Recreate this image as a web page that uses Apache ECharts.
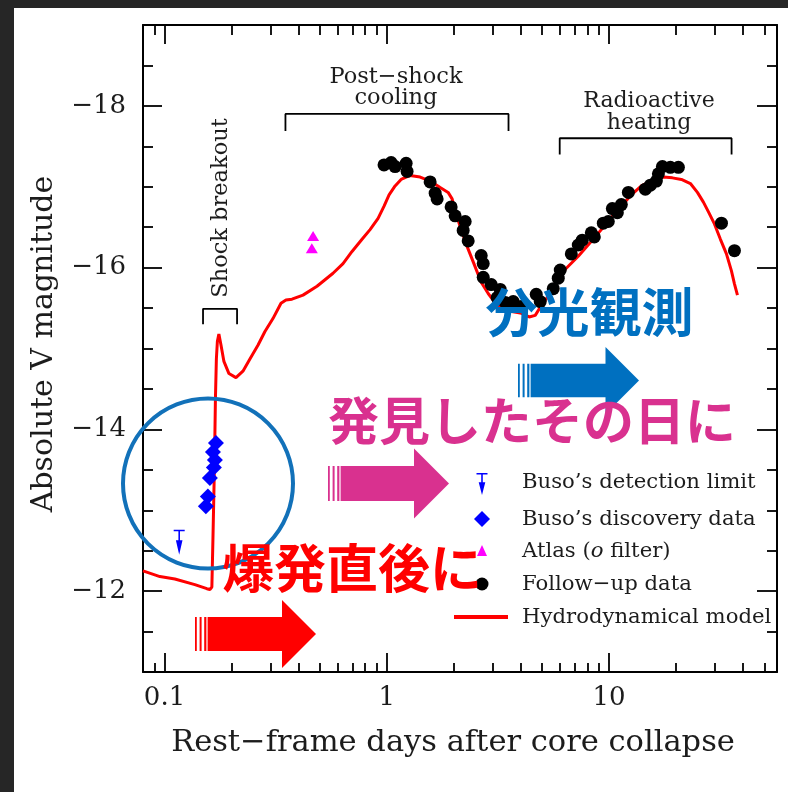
<!DOCTYPE html>
<html>
<head>
<meta charset="utf-8">
<script src="https://cdn.jsdelivr.net/npm/echarts@6.0.0/dist/echarts.min.js"></script>
<style>
  html, body { margin: 0; padding: 0; background: #ffffff; }
  #chart { width: 788px; height: 792px; }
</style>
</head>
<body>
<div id="chart"></div>
<script>
// ---- Light-curve data: rest-frame days after core collapse / absolute V magnitude ----
const modelDays = [0.080, 0.0953, 0.1113, 0.1369, 0.1550, 0.1600, 0.1633, 0.1651, 0.1676, 0.1694,
  0.1711, 0.1729, 0.1756, 0.1793, 0.1850, 0.1949, 0.2096, 0.2253, 0.2422, 0.2632,
  0.2830, 0.3075, 0.3342, 0.3518, 0.3745, 0.4198, 0.4853, 0.5729, 0.6355, 0.6978,
  0.7738, 0.8409, 0.9138, 0.9723, 1.024, 1.090, 1.160, 1.273, 1.413, 1.567,
  1.739, 1.888, 1.968, 2.052, 2.161, 2.300, 2.474, 2.660, 2.860, 3.043,
  3.239, 3.593, 3.986, 4.375, 4.656, 4.904, 5.329, 5.789, 6.357, 7.272,
  8.236, 9.233, 10.24, 11.36, 12.60, 13.98, 16.00, 17.56, 19.28, 21.17,
  23.24, 24.99, 26.59, 28.02, 29.81, 31.72, 33.76, 35.55, 36.68, 37.84];
const modelMag = [-12.25, -12.18, -12.15, -12.08, -12.03, -12.02, -12.05, -12.64, -13.51, -14.37,
  -14.87, -15.09, -15.18, -15.05, -14.84, -14.69, -14.64, -14.72, -14.87, -15.04,
  -15.21, -15.37, -15.56, -15.60, -15.61, -15.66, -15.77, -15.93, -16.05, -16.20,
  -16.35, -16.47, -16.61, -16.76, -16.90, -17.01, -17.09, -17.14, -17.12, -17.07,
  -16.99, -16.93, -16.85, -16.66, -16.47, -16.26, -16.04, -15.82, -15.68, -15.58,
  -15.51, -15.46, -15.44, -15.39, -15.41, -15.51, -15.65, -15.83, -15.98, -16.14,
  -16.31, -16.47, -16.62, -16.76, -16.90, -17.01, -17.09, -17.12, -17.11, -17.09,
  -17.04, -16.93, -16.81, -16.69, -16.54, -16.35, -16.17, -15.96, -15.80, -15.66];

const followDays = [0.972, 1.046, 1.090, 1.222, 1.234, 1.567, 1.651, 1.685, 1.948, 2.031,
  2.253, 2.207, 2.324, 2.660, 2.716, 2.716, 2.951, 3.239, 3.139, 3.412,
  3.706, 4.027, 4.705, 4.904, 5.612, 5.910, 6.034, 6.765, 7.272, 7.580,
  8.325, 8.587, 9.426, 9.927, 10.35, 10.90, 11.36, 12.22, 14.57, 15.35,
  16.33, 16.68, 17.39, 18.88, 20.52, 32.06, 36.68];
const followMag = [-17.27, -17.30, -17.25, -17.29, -17.19, -17.06, -16.92, -16.85, -16.75, -16.64,
  -16.57, -16.46, -16.33, -16.15, -16.05, -15.88, -15.79, -15.73, -15.63, -15.57,
  -15.58, -15.52, -15.67, -15.58, -15.74, -15.87, -15.97, -16.17, -16.28, -16.34,
  -16.43, -16.38, -16.55, -16.57, -16.73, -16.68, -16.78, -16.93, -16.97, -17.02,
  -17.07, -17.16, -17.25, -17.24, -17.24, -16.55, -16.21];

const busoDays = [0.1703, 0.1651, 0.1685, 0.1667, 0.1600, 0.1567, 0.1535];
const busoMag = [-13.83, -13.72, -13.62, -13.53, -13.40, -13.17, -13.05];

const atlasDays = [0.466, 0.460];
const atlasMag = [-16.39, -16.24];

const limitDays = [0.1164];
const limitMag = [-12.76];

// Phase brackets (days, magnitude of the bracket corners)
const coolingBracketDays = [0.35, 0.35, 3.53, 3.53];
const coolingBracketMag = [-17.69, -17.90, -17.90, -17.69];
const heatingBracketDays = [6.0, 6.0, 35.6, 35.6];
const heatingBracketMag = [-17.40, -17.60, -17.60, -17.40];
const breakoutBracketDays = [0.149, 0.149, 0.212, 0.212];
const breakoutBracketMag = [-15.30, -15.49, -15.49, -15.30];

// Axis ranges and ticks
const xMinDay = 0.08, xMaxDay = 57;
const xMajorTicks = [0.1, 1, 10];
const xMajorLabels = ['0.1', '1', '10'];
const xMinorTicks = [0.09, 0.2, 0.3, 0.4, 0.5, 0.6, 0.7, 0.8, 0.9,
  2, 3, 4, 5, 6, 7, 8, 9, 20, 30, 40, 50];
const yMin = -19, yMax = -11;
const yMajorTicks = [-18, -16, -14, -12];
const yMinorTicks = [-18.5, -17.5, -17, -16.5, -15.5, -15, -14.5, -13.5, -13, -12.5, -11.5];

// ---- helpers ----
const lg = Math.log10;
const pairs = (days, mags) => days.map((d, i) => [lg(d), mags[i]]);
const serif = 'DejaVu Serif';
const ink = '#1c1c1c';

// upper-limit marker: bar on top, stem and arrow head pointing down (12 x 26 box)
const limitOutline = [[0, 0], [12, 0], [12, 1.7], [6.85, 1.7], [6.85, 11], [9.6, 11], [6, 26],
  [2.4, 11], [5.15, 11], [5.15, 1.7], [0, 1.7]];
const limitPath = 'path://M' + limitOutline.map(p => p.join(',')).join('L') + 'Z';

function xAxisDef(position, ticks, len, showLine, showLabel) {
  return {
    type: 'value', position, min: lg(xMinDay), max: lg(xMaxDay),
    splitLine: { show: false },
    axisLine: { show: showLine, onZero: false, lineStyle: { color: '#000', width: 2 } },
    axisTick: { show: true, inside: true, length: len, customValues: ticks.map(lg),
      lineStyle: { color: '#000', width: 1.8 } },
    axisLabel: showLabel ? {
      show: true, customValues: xMajorTicks.map(lg), margin: 13,
      fontFamily: serif, fontSize: 26, color: ink,
      formatter: v => {
        const i = xMajorTicks.findIndex(t => Math.abs(lg(t) - v) < 1e-6);
        return i >= 0 ? xMajorLabels[i] : '';
      }
    } : { show: false }
  };
}
function yAxisDef(position, ticks, len, showLine, showLabel) {
  return {
    type: 'value', position, min: yMin, max: yMax, inverse: true,
    splitLine: { show: false },
    axisLine: { show: showLine, onZero: false, lineStyle: { color: '#000', width: 2 } },
    axisTick: { show: true, inside: true, length: len, customValues: ticks,
      lineStyle: { color: '#000', width: 1.8 } },
    axisLabel: showLabel ? {
      show: true, customValues: yMajorTicks, margin: 17,
      fontFamily: serif, fontSize: 26, color: ink,
      formatter: v => '\u2212' + Math.abs(v)
    } : { show: false }
  };
}

function bracketSeries(days, mags) {
  return {
    type: 'line', xAxisIndex: 0, yAxisIndex: 0, data: pairs(days, mags),
    showSymbol: false, silent: true, z: 3,
    lineStyle: { color: '#000', width: 1.8 }
  };
}

// Striped right arrow drawn as graphic elements
function stripedArrow(x0, tip, top, bottom, color) {
  const h = bottom - top, cy = (top + bottom) / 2, sh = h / 4, head = tip - h / 2;
  const y0 = cy - sh, y1 = cy + sh;
  const parts = [[0, 1.8], [4.6, 6.6], [9.2, 11.4]].map(([a, b]) => ({
    type: 'rect', shape: { x: x0 + a, y: y0, width: b - a, height: y1 - y0 },
    style: { fill: color }, z: 100
  }));
  parts.push({
    type: 'polygon', z: 100,
    shape: { points: [[x0 + 12.6, y0], [head, y0], [head, top], [tip, cy], [head, bottom], [head, y1], [x0 + 12.6, y1]] },
    style: { fill: color }
  });
  return parts;
}

function label(text, x, y, size, extra, align) {
  return Object.assign({
    type: 'text', x, y, z: 110,
    style: { text, fontFamily: serif, fontSize: size, fill: ink, align: align || 'center', verticalAlign: 'middle' }
  }, extra || {});
}

const legendX = 482, legendTextX = 522;
const legendRows = [482, 519, 551, 584, 617];
const legendFont = 21.2;

const chart = echarts.init(document.getElementById('chart'), null, { renderer: 'canvas' });
chart.setOption({
  animation: false,
  backgroundColor: '#ffffff',
  grid: { left: 143, right: 11, top: 25, bottom: 120 },
  xAxis: [
    xAxisDef('bottom', xMajorTicks, 19, true, true),
    xAxisDef('bottom', xMinorTicks, 9, false, false),
    xAxisDef('top', xMajorTicks, 19, true, false),
    xAxisDef('top', xMinorTicks, 10, false, false)
  ],
  yAxis: [
    yAxisDef('left', yMajorTicks, 19, true, true),
    yAxisDef('left', yMinorTicks, 10, false, false),
    yAxisDef('right', yMajorTicks, 20, true, false),
    yAxisDef('right', yMinorTicks, 10, false, false)
  ],
  series: [
    bracketSeries(coolingBracketDays, coolingBracketMag),
    bracketSeries(heatingBracketDays, heatingBracketMag),
    bracketSeries(breakoutBracketDays, breakoutBracketMag),
    {
      name: 'Hydrodynamical model', type: 'line', data: pairs(modelDays, modelMag),
      showSymbol: false, smooth: false, z: 4,
      lineStyle: { color: '#ff0000', width: 3 }
    },
    {
      name: 'Follow-up data', type: 'scatter', data: pairs(followDays, followMag),
      symbol: 'circle', symbolSize: 13, z: 5, itemStyle: { color: '#000000', opacity: 1 }
    },
    {
      name: 'Atlas (o filter)', type: 'scatter', data: pairs(atlasDays, atlasMag),
      symbol: 'triangle', symbolSize: [12, 10], z: 5, itemStyle: { color: '#ff00ff', opacity: 1 }
    },
    {
      name: 'Buso’s discovery data', type: 'scatter', data: pairs(busoDays, busoMag),
      symbol: 'diamond', symbolSize: 16, z: 6, itemStyle: { color: '#0000ff', opacity: 1 }
    },
    {
      name: 'Buso’s detection limit', type: 'scatter', data: pairs(limitDays, limitMag),
      symbol: limitPath, symbolSize: [11, 25], symbolOffset: [0, 12.5],
      z: 6, itemStyle: { color: '#0000ff', opacity: 1 }
    }
  ],
  graphic: [
    // dark frame strips
    { type: 'rect', shape: { x: 0, y: 0, width: 788, height: 8 }, style: { fill: '#262626' }, z: 120 },
    { type: 'rect', shape: { x: 0, y: 0, width: 14, height: 792 }, style: { fill: '#262626' }, z: 120 },

    // axis titles
    label('Rest\u2212frame days after core collapse', 453, 743, 30.5),
    label('Absolute V magnitude', 44, 344, 30, { rotation: Math.PI / 2 }),

    // phase labels
    label('Post\u2212shock', 396, 77, 22.5),
    label('cooling', 396, 98, 22.5),
    label('Radioactive', 649, 101, 22),
    label('heating', 649, 123, 22),
    label('Shock breakout', 221.5, 208, 22.5, { rotation: Math.PI / 2 }),

    // legend markers
    { type: 'polygon', z: 110,
      shape: { points: limitOutline.map(([px, py]) => [legendX - 5.5 + px * 11 / 12, 473 + py * 22 / 26]) },
      style: { fill: '#0000ff' } },
    { type: 'polygon', z: 110, shape: { points: [[legendX, 511], [legendX + 8, 519], [legendX, 527], [legendX - 8, 519]] },
      style: { fill: '#0000ff' } },
    { type: 'polygon', z: 110, shape: { points: [[legendX, 545], [legendX + 5, 556], [legendX - 5, 556]] },
      style: { fill: '#ff00ff' } },
    { type: 'circle', z: 110, shape: { cx: legendX, cy: 584, r: 6.5 }, style: { fill: '#000' } },
    { type: 'line', z: 110, shape: { x1: 454, y1: 617, x2: 508, y2: 617 }, style: { stroke: '#ff0000', lineWidth: 4 } },

    // legend texts
    label('Buso’s detection limit', legendTextX, legendRows[0], legendFont, null, 'left'),
    label('Buso’s discovery data', legendTextX, legendRows[1], legendFont, null, 'left'),
    {
      type: 'text', x: legendTextX, y: legendRows[2], z: 110,
      style: {
        text: '{n|Atlas (}{i|o}{n| filter)}', align: 'left', verticalAlign: 'middle',
        rich: {
          n: { fontFamily: serif, fontSize: legendFont, fill: ink, color: ink },
          i: { fontFamily: serif, fontSize: legendFont, fontStyle: 'italic', fill: ink, color: ink }
        }
      }
    },
    label('Follow\u2212up data', legendTextX, legendRows[3], legendFont, null, 'left'),
    label('Hydrodynamical model', legendTextX, legendRows[4], legendFont, null, 'left'),

    // highlight circle around the first detections
    { type: 'circle', z: 105, shape: { cx: 208, cy: 483.5, r: 85 },
      style: { fill: 'none', stroke: '#1271b9', lineWidth: 4 } },

    // callout arrows
    ...stripedArrow(518, 639, 347, 414, '#0070c0'),
    ...stripedArrow(328, 449, 448.5, 518.5, '#d9318f'),
    ...stripedArrow(195, 316, 600, 668, '#ff0000'),

    // callout captions
    { type: 'text', x: 589.5, y: 312, z: 115,
      style: { text: '分光観測', fontFamily: 'Noto Sans CJK JP', fontWeight: 'bold', fontSize: 52,
        fill: '#0070c0', align: 'center', verticalAlign: 'middle' } },
    { type: 'text', x: 532, y: 421, z: 115,
      style: { text: '発見したその日に', fontFamily: 'Noto Sans CJK JP', fontWeight: 'bold', fontSize: 51,
        fill: '#d9318f', align: 'center', verticalAlign: 'middle' } },
    { type: 'text', x: 352, y: 568, z: 115,
      style: { text: '爆発直後に', fontFamily: 'Noto Sans CJK JP', fontWeight: 'bold', fontSize: 52,
        fill: '#ff0000', align: 'center', verticalAlign: 'middle' } }
  ]
});
</script>
</body>
</html>
